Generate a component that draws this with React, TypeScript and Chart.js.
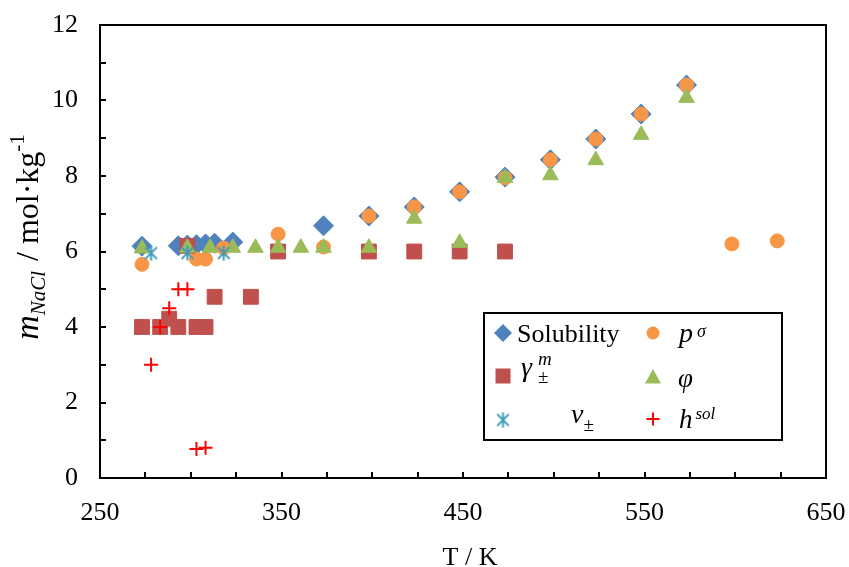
import React, { useEffect, useRef } from "react";
import { Chart, registerables } from "chart.js";

Chart.register(...registerables);

const SERIF = "'Liberation Serif', 'Times New Roman', serif";

// Temperature (K) and NaCl molality (mol/kg) for each property set
const solubilityT = [273.15, 293.15, 298.15, 303.15, 308.15, 313.15, 323.15, 373.15, 398.15, 423.15, 448.15, 473.15, 498.15, 523.15, 548.15, 573.15];
const solubilityM = [6.14, 6.15, 6.17, 6.18, 6.2, 6.22, 6.25, 6.68, 6.94, 7.18, 7.58, 7.97, 8.43, 8.98, 9.64, 10.41];

const pressureT = [273.15, 303.15, 308.15, 318.15, 348.15, 373.15, 398.15, 423.15, 448.15, 473.15, 498.15, 523.15, 548.15, 573.15, 598.15, 623.15];
const pressureM = [5.66, 5.8, 5.8, 6.09, 6.46, 6.12, 6.94, 7.18, 7.58, 7.95, 8.43, 8.98, 9.64, 10.41, 6.2, 6.28];

const gammaT = [273.15, 283.15, 288.15, 293.15, 298.15, 303.15, 308.15, 313.15, 333.15, 348.15, 398.15, 423.15, 448.15, 473.15];
const gammaM = [4.0, 4.0, 4.22, 4.0, 6.15, 4.0, 4.0, 4.8, 4.8, 6.0, 6.0, 6.0, 6.0, 6.0];

const phiT = [273.15, 298.15, 310.65, 323.15, 335.65, 348.15, 360.65, 373.15, 398.15, 423.15, 448.15, 473.15, 498.15, 523.15, 548.15, 573.15];
const phiM = [6.08, 6.1, 6.1, 6.1, 6.1, 6.1, 6.1, 6.1, 6.1, 6.87, 6.23, 7.95, 8.02, 8.42, 9.09, 10.07];

const nuT = [278.15, 298.15, 318.15];
const nuM = [5.96, 5.96, 5.96];

const hsolT = [278.15, 283.15, 288.15, 293.15, 298.15, 303.15, 308.15];
const hsolM = [3.0, 4.0, 4.5, 5.0, 5.0, 0.77, 0.8];

// Axis ranges and tick layout
const xMin = 250, xMax = 650, xStep = 25, xLabelStep = 100;
const yMin = 0, yMax = 12, yStep = 1, yLabelStep = 2;

const BLUE = "#4F81BD";
const ORANGE = "#F79646";
const RED = "#C0504D";
const GREEN = "#9BBB59";
const TEAL = "#3F9CB8";
const CROSS = "#FF0000";

type Run = { text: string; size: number; italic?: boolean; dy?: number; dx?: number };

function runsWidth(ctx: CanvasRenderingContext2D, runs: Run[]) {
  let w = 0;
  for (const r of runs) {
    ctx.font = `${r.italic ? "italic " : ""}${r.size}px ${SERIF}`;
    w += ctx.measureText(r.text).width + (r.dx || 0);
  }
  return w;
}

function drawRuns(ctx: CanvasRenderingContext2D, x: number, y: number, runs: Run[]) {
  let cx = x;
  ctx.textBaseline = "alphabetic";
  ctx.textAlign = "left";
  for (const r of runs) {
    ctx.font = `${r.italic ? "italic " : ""}${r.size}px ${SERIF}`;
    cx += r.dx || 0;
    ctx.fillText(r.text, cx, y + (r.dy || 0));
    cx += ctx.measureText(r.text).width;
  }
}

function makeAsterisk(color: string, size: number, lw: number) {
  const c = document.createElement("canvas");
  c.width = size;
  c.height = size;
  const g = c.getContext("2d")!;
  g.strokeStyle = color;
  g.lineWidth = lw;
  const h = size / 2;
  const r = size / 2 - 1;
  const d = r * 0.78;
  g.beginPath();
  g.moveTo(h, h - r);
  g.lineTo(h, h + r);
  g.moveTo(h - d, h - d);
  g.lineTo(h + d, h + d);
  g.moveTo(h + d, h - d);
  g.lineTo(h - d, h + d);
  g.stroke();
  return c;
}

function marker(ctx: CanvasRenderingContext2D, kind: string, x: number, y: number, r: number, color: string, img?: HTMLCanvasElement) {
  ctx.save();
  ctx.fillStyle = color;
  ctx.strokeStyle = color;
  ctx.beginPath();
  if (kind === "diamond") {
    ctx.moveTo(x, y - r);
    ctx.lineTo(x + r, y);
    ctx.lineTo(x, y + r);
    ctx.lineTo(x - r, y);
    ctx.closePath();
    ctx.fill();
  } else if (kind === "circle") {
    ctx.arc(x, y, r, 0, Math.PI * 2);
    ctx.fill();
  } else if (kind === "square") {
    ctx.rect(x - r, y - r, 2 * r, 2 * r);
    ctx.fill();
  } else if (kind === "triangle") {
    ctx.moveTo(x, y - r);
    ctx.lineTo(x + r, y + r * 0.8);
    ctx.lineTo(x - r, y + r * 0.8);
    ctx.closePath();
    ctx.fill();
  } else if (kind === "cross") {
    ctx.lineWidth = 2;
    ctx.moveTo(x - r, y);
    ctx.lineTo(x + r, y);
    ctx.moveTo(x, y - r);
    ctx.lineTo(x, y + r);
    ctx.stroke();
  } else if (kind === "image" && img) {
    ctx.drawImage(img, x - img.width / 2, y - img.height / 2);
  }
  ctx.restore();
}

function pts(xs: number[], ys: number[]) {
  return xs.map((x, i) => ({ x, y: ys[i] }));
}

// Keep the plot area fixed: drop the extra room Chart.js reserves for edge labels
function fixScale(size: { width?: number; height?: number }) {
  return (s: any) => {
    if (size.width !== undefined) s.width = size.width;
    if (size.height !== undefined) s.height = size.height;
    s.paddingTop = 0;
    s.paddingBottom = 0;
    s.paddingLeft = 0;
    s.paddingRight = 0;
  };
}

export default function App() {
  const ref = useRef<HTMLCanvasElement>(null);

  useEffect(() => {
    const canvas = ref.current;
    if (!canvas) return;
    const star = makeAsterisk(TEAL, 17, 2);

    const decor = {
      id: "decor",
      beforeDatasetsDraw(chart: any) {
        const { ctx, chartArea: a, scales } = chart;
        ctx.save();
        ctx.strokeStyle = "#000";
        ctx.lineWidth = 2;
        ctx.strokeRect(a.left, a.top, a.right - a.left, a.bottom - a.top);
        ctx.beginPath();
        for (const t of scales.x.ticks) {
          if (t.value <= xMin || t.value >= xMax) continue;
          const px = Math.round(scales.x.getPixelForValue(t.value));
          ctx.moveTo(px, a.bottom);
          ctx.lineTo(px, a.bottom - 6);
        }
        for (const t of scales.y.ticks) {
          if (t.value <= yMin || t.value >= yMax) continue;
          const py = Math.round(scales.y.getPixelForValue(t.value));
          ctx.moveTo(a.left, py);
          ctx.lineTo(a.left + 6, py);
        }
        ctx.stroke();
        ctx.restore();
      },
      afterDraw(chart: any) {
        const { ctx } = chart;
        ctx.save();
        ctx.fillStyle = "#000";

        // x-axis title
        ctx.font = `26px ${SERIF}`;
        ctx.textAlign = "center";
        ctx.textBaseline = "alphabetic";
        ctx.fillText("T / K", 470, 565);

        // y-axis title, rotated
        const yRuns: Run[] = [
          { text: "m", size: 34, italic: true },
          { text: "NaCl", size: 21, italic: true, dy: 7 },
          { text: " / mol·kg", size: 32, dx: 2 },
          { text: "-1", size: 21, dy: -14 },
        ];
        const w = runsWidth(ctx, yRuns);
        ctx.translate(38, 237);
        ctx.rotate(-Math.PI / 2);
        drawRuns(ctx, -w / 2, 0, yRuns);
        ctx.setTransform(1, 0, 0, 1, 0, 0);

        // legend box
        ctx.fillStyle = "#fff";
        ctx.fillRect(484, 313, 298, 127);
        ctx.strokeStyle = "#000";
        ctx.lineWidth = 2;
        ctx.strokeRect(484, 313, 298, 127);

        marker(ctx, "diamond", 503, 333, 9, BLUE);
        marker(ctx, "circle", 653, 333, 6.5, ORANGE);
        marker(ctx, "square", 503, 376, 7.5, RED);
        marker(ctx, "triangle", 653, 377, 8, GREEN);
        marker(ctx, "image", 503, 420, 0, TEAL, star);
        marker(ctx, "cross", 653, 419, 6.5, CROSS);

        ctx.fillStyle = "#000";
        drawRuns(ctx, 517, 342, [{ text: "Solubility", size: 26 }]);
        drawRuns(ctx, 679, 342, [
          { text: "p", size: 28, italic: true },
          { text: "σ", size: 18, italic: true, dx: 4, dy: -5 },
        ]);
        drawRuns(ctx, 521, 376, [{ text: "γ", size: 28, italic: true }]);
        drawRuns(ctx, 538, 365, [{ text: "m", size: 19, italic: true }]);
        drawRuns(ctx, 538, 383, [{ text: "±", size: 19 }]);
        drawRuns(ctx, 678, 387, [{ text: "φ", size: 27, italic: true }]);
        drawRuns(ctx, 571, 423, [
          { text: "ν", size: 28, italic: true },
          { text: "±", size: 19, dy: 8 },
        ]);
        drawRuns(ctx, 679, 428, [
          { text: "h", size: 27, italic: true },
          { text: "sol", size: 17, italic: true, dx: 3, dy: -9 },
        ]);
        ctx.restore();
      },
    };

    const tickFont = { family: SERIF, size: 26 };

    const chart = new Chart(canvas, {
      type: "scatter",
      data: {
        datasets: [
          {
            label: "Solubility",
            data: pts(solubilityT, solubilityM),
            pointStyle: "rectRot",
            pointRadius: 10,
            backgroundColor: BLUE,
            borderColor: BLUE,
            borderWidth: 1,
            order: 6,
          },
          {
            label: "pσ",
            data: pts(pressureT, pressureM),
            pointStyle: "circle",
            pointRadius: 7,
            backgroundColor: ORANGE,
            borderColor: ORANGE,
            borderWidth: 1,
            order: 5,
          },
          {
            label: "γ±m",
            data: pts(gammaT, gammaM),
            pointStyle: "rect",
            pointRadius: 10.5,
            backgroundColor: RED,
            borderColor: RED,
            borderWidth: 1,
            order: 4,
          },
          {
            label: "φ",
            data: pts(phiT, phiM),
            pointStyle: "triangle",
            pointRadius: 9,
            backgroundColor: GREEN,
            borderColor: GREEN,
            borderWidth: 1,
            order: 3,
          },
          {
            label: "ν±",
            data: pts(nuT, nuM),
            pointStyle: star as any,
            pointRadius: 8,
            backgroundColor: TEAL,
            borderColor: TEAL,
            order: 2,
          },
          {
            label: "hsol",
            data: pts(hsolT, hsolM),
            pointStyle: "cross",
            pointRadius: 7,
            backgroundColor: CROSS,
            borderColor: CROSS,
            borderWidth: 2,
            order: 1,
          },
        ],
      },
      options: {
        responsive: false,
        animation: false,
        devicePixelRatio: 1,
        layout: { padding: { top: 25, right: 23, left: 0, bottom: 0 } },
        plugins: {
          legend: { display: false },
          tooltip: { enabled: false },
          title: { display: false },
        },
        scales: {
          x: {
            type: "linear",
            min: xMin,
            max: xMax,
            grid: { display: false, drawTicks: false },
            border: { display: false },
            ticks: {
              stepSize: xStep,
              autoSkip: false,
              maxRotation: 0,
              color: "#000",
              font: tickFont,
              padding: 20,
              callback: (v: any) => ((Number(v) - xMin) % xLabelStep === 0 ? String(v) : ""),
            },
            afterFit: fixScale({ height: 89 }),
          },
          y: {
            type: "linear",
            min: yMin,
            max: yMax,
            grid: { display: false, drawTicks: false },
            border: { display: false },
            ticks: {
              stepSize: yStep,
              autoSkip: false,
              color: "#000",
              font: tickFont,
              padding: 22,
              callback: (v: any) => (Number(v) % yLabelStep === 0 ? String(v) : ""),
            },
            afterFit: fixScale({ width: 100 }),
          },
        },
      },
      plugins: [decor],
    });

    return () => chart.destroy();
  }, []);

  return (
    <div style={{ position: "fixed", left: 0, top: 0, width: 849, height: 567, background: "#fff" }}>
      <canvas ref={ref} width={849} height={567} />
    </div>
  );
}
